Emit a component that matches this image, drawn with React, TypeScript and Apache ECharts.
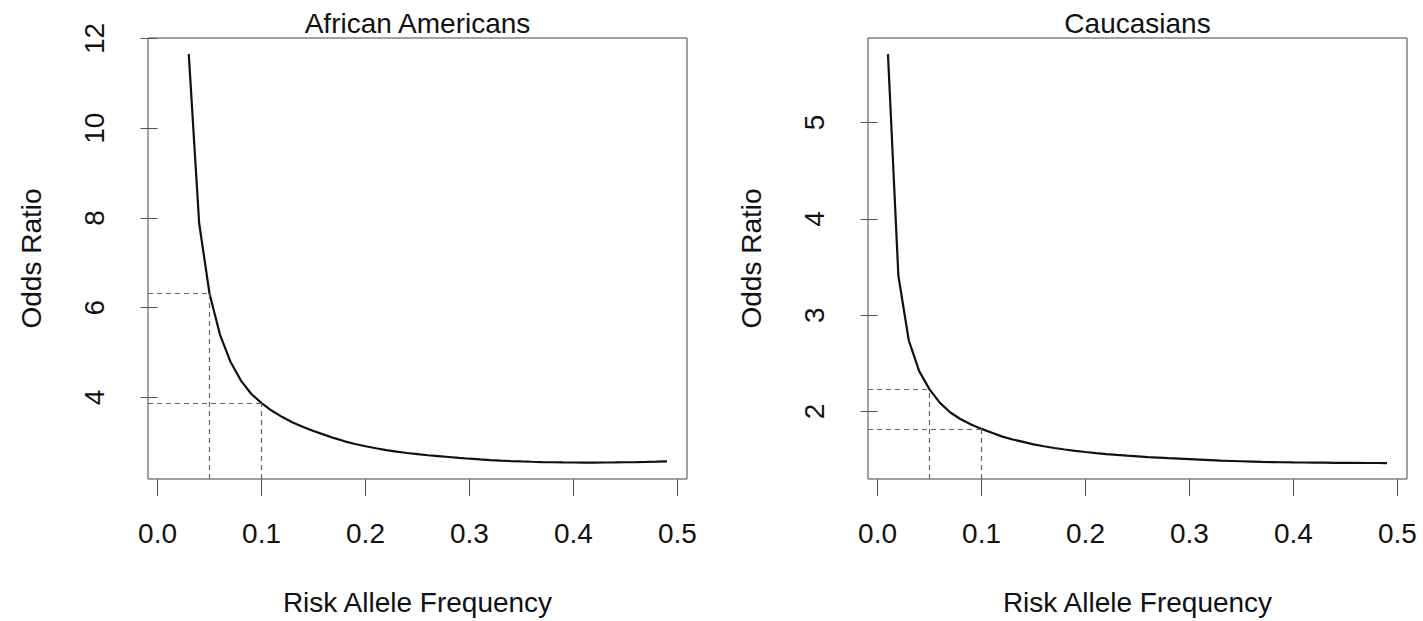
import React, { useEffect, useRef } from "react";
import * as echarts from "echarts";

// ---- data ----
const freqAA = [
  0.03, 0.04, 0.05, 0.06, 0.07, 0.08, 0.09, 0.1, 0.11, 0.12, 0.13, 0.14, 0.15,
  0.16, 0.17, 0.18, 0.19, 0.2, 0.21, 0.22, 0.23, 0.24, 0.25, 0.26, 0.27, 0.28,
  0.29, 0.3, 0.31, 0.32, 0.33, 0.34, 0.35, 0.36, 0.37, 0.38, 0.39, 0.4, 0.41,
  0.42, 0.43, 0.44, 0.45, 0.46, 0.47, 0.48, 0.49,
];
const oddsAA = [
  11.65, 7.88, 6.31, 5.4, 4.8, 4.38, 4.08, 3.87, 3.7, 3.56, 3.44, 3.34, 3.25,
  3.17, 3.09, 3.02, 2.96, 2.91, 2.865, 2.825, 2.79, 2.76, 2.735, 2.71, 2.69,
  2.67, 2.65, 2.632, 2.616, 2.602, 2.59, 2.58, 2.571, 2.564, 2.558, 2.553,
  2.55, 2.548, 2.547, 2.547, 2.548, 2.55, 2.553, 2.557, 2.562, 2.568, 2.575,
];
const freqCA = [
  0.01, 0.02, 0.03, 0.04, 0.05, 0.06, 0.07, 0.08, 0.09, 0.1, 0.11, 0.12, 0.13,
  0.14, 0.15, 0.16, 0.17, 0.18, 0.19, 0.2, 0.21, 0.22, 0.23, 0.24, 0.25, 0.26,
  0.27, 0.28, 0.29, 0.3, 0.31, 0.32, 0.33, 0.34, 0.35, 0.36, 0.37, 0.38, 0.39,
  0.4, 0.41, 0.42, 0.43, 0.44, 0.45, 0.46, 0.47, 0.48, 0.49,
];
const oddsCA = [
  5.71, 3.41, 2.74, 2.42, 2.23, 2.09, 1.99, 1.92, 1.865, 1.82, 1.78, 1.74,
  1.71, 1.685, 1.66, 1.64, 1.622, 1.606, 1.592, 1.58, 1.569, 1.559, 1.55,
  1.542, 1.535, 1.528, 1.522, 1.516, 1.511, 1.506, 1.501, 1.496, 1.49, 1.487,
  1.484, 1.481, 1.478, 1.476, 1.474, 1.472, 1.471, 1.47, 1.469, 1.468, 1.467,
  1.467, 1.466, 1.466, 1.465,
];
const xTicks = [0, 0.1, 0.2, 0.3, 0.4, 0.5];
const yTicksAA = [4, 6, 8, 10, 12];
const yTicksCA = [2, 3, 4, 5];
const refFreqs = [0.05, 0.1];
const xRange = [-0.0092, 0.5092];
const yRangeAA = [2.18, 12.01];
const yRangeCA = [1.3, 5.877];
const titles = ["African Americans", "Caucasians"];
const xName = "Risk Allele Frequency";
const yName = "Odds Ratio";

const FONT = '"Liberation Sans", Arial, Helvetica, sans-serif';
const FS = 28;
const TXT = "#111";
const FRAME = "#444";
const TICK = "#555";

const GRIDS = [
  { left: 148, top: 38, width: 539, height: 443 },
  { left: 868, top: 38, width: 539, height: 443 },
];

function refLines(freq: number[], odds: number[], yMin: number) {
  const out: any[] = [];
  refFreqs.forEach((f) => {
    const i = freq.findIndex((v) => Math.abs(v - f) < 1e-9);
    const y = odds[i];
    out.push([{ coord: [xRange[0], y] }, { coord: [f, y] }]);
    out.push([{ coord: [f, yMin] }, { coord: [f, y] }]);
  });
  return out;
}

export default function App() {
  const ref = useRef<HTMLDivElement>(null);

  useEffect(() => {
    if (!ref.current) return;
    const chart = echarts.init(ref.current, undefined, { renderer: "svg" });

    const xAxisFor = (gi: number) => ({
      type: "value",
      gridIndex: gi,
      min: xRange[0],
      max: xRange[1],
      name: xName,
      nameLocation: "middle",
      nameGap: 109,
      nameTextStyle: { fontSize: FS, fontFamily: FONT, color: TXT },
      axisLine: { show: false },
      axisTick: {
        show: true,
        customValues: xTicks,
        length: 17,
        lineStyle: { color: TICK, width: 1 },
      },
      axisLabel: {
        customValues: xTicks,
        formatter: (v: number) => v.toFixed(1),
        fontSize: FS,
        fontFamily: FONT,
        color: TXT,
        margin: 40,
      },
      splitLine: { show: false },
    });

    const yAxisFor = (gi: number, range: number[], ticks: number[]) => ({
      type: "value",
      gridIndex: gi,
      min: range[0],
      max: range[1],
      name: yName,
      nameLocation: "middle",
      nameRotate: 90,
      nameGap: 103,
      nameTextStyle: { fontSize: FS, fontFamily: FONT, color: TXT },
      axisLine: { show: false },
      axisTick: {
        show: true,
        customValues: ticks,
        length: 17,
        lineStyle: { color: TICK, width: 1 },
      },
      axisLabel: {
        customValues: ticks,
        formatter: (v: number) => String(v),
        rotate: 90,
        fontSize: FS,
        fontFamily: FONT,
        color: TXT,
        margin: 40,
      },
      splitLine: { show: false },
    });

    const dashStyle = { color: "#666", width: 1.2, type: [5, 4] as any };

    const seriesFor = (gi: number, freq: number[], odds: number[], yMin: number) => ({
      type: "line",
      xAxisIndex: gi,
      yAxisIndex: gi,
      data: freq.map((f, i) => [f, odds[i]]),
      showSymbol: false,
      symbol: "none",
      lineStyle: { color: "#111", width: 2.2 },
      silent: true,
      markLine: {
        silent: true,
        symbol: ["none", "none"],
        label: { show: false },
        lineStyle: dashStyle,
        emphasis: { disabled: true },
        data: refLines(freq, odds, yMin),
      },
    });

    chart.setOption({
      animation: false,
      backgroundColor: "#fff",
      grid: GRIDS.map((g) => ({
        ...g,
        show: true,
        borderColor: FRAME,
        borderWidth: 1,
        backgroundColor: "transparent",
        containLabel: false,
      })),
      xAxis: [xAxisFor(0), xAxisFor(1)],
      yAxis: [
        yAxisFor(0, yRangeAA, yTicksAA),
        yAxisFor(1, yRangeCA, yTicksCA),
      ],
      series: [
        seriesFor(0, freqAA, oddsAA, yRangeAA[0]),
        seriesFor(1, freqCA, oddsCA, yRangeCA[0]),
      ],
      graphic: titles.map((t, i) => ({
        type: "text",
        x: GRIDS[i].left + GRIDS[i].width / 2,
        y: 23,
        style: {
          text: t,
          fontSize: FS,
          fontFamily: FONT,
          fill: TXT,
          align: "center",
          verticalAlign: "middle",
        },
      })),
    });

    return () => chart.dispose();
  }, []);

  return (
    <div
      ref={ref}
      style={{ position: "fixed", left: 0, top: 0, width: 1423, height: 621, background: "#fff" }}
    />
  );
}
